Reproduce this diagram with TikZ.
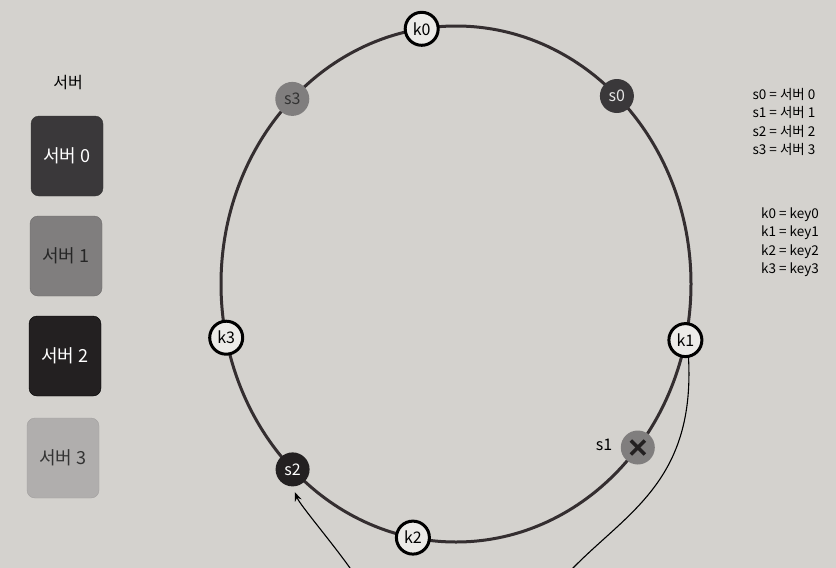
\documentclass[tikz,border=0pt]{standalone}
\usepackage{fontspec}
\setmainfont{Noto Sans CJK KR}
\usetikzlibrary{arrows.meta,calc}
\definecolor{paper}{RGB}{212,210,206}
\definecolor{kfill}{RGB}{236,235,232}
\definecolor{ringc}{RGB}{52,46,48}
\definecolor{sdark}{RGB}{58,56,58}
\definecolor{smid}{RGB}{128,126,126}
\definecolor{sblack}{RGB}{35,32,33}
\definecolor{slight}{RGB}{176,174,173}
\tikzset{
  ring/.style={draw=ringc, line width=3pt},
  knode/.style={circle, draw=black, line width=3pt, fill=kfill, minimum size=33pt, inner sep=0pt, font=\fontsize{16}{16}\selectfont},
  snode/.style={circle, minimum size=34pt, inner sep=0pt, font=\fontsize{16}{16}\selectfont},
  srvbox/.style={rounded corners=8pt, minimum width=72pt, minimum height=80pt, inner sep=0pt, font=\fontsize{18}{18}\selectfont},
  legend/.style={align=center, font=\fontsize{13.5}{18.5}\selectfont},
  arcline/.style={draw=black, line width=1.1pt, -{Stealth[length=9pt,width=7pt]}},
  xmark/.style={draw=sblack, line width=3.5pt}
}
\begin{document}
\begin{tikzpicture}[x=1pt,y=-1pt]
\useasboundingbox (0,0) rectangle (836,568);
\clip (0,0) rectangle (836,568);
\fill[paper] (0,0) rectangle (836,568);

% left server boxes
\node[font=\fontsize{16}{16}\selectfont] (title) at (68,83) {서버};
\node[srvbox, fill=sdark, draw=black!80, text=white] (b0) at (67,156) {서버 0};
\node[srvbox, fill=smid, draw=smid!85!black, text=black!85] (b1) at (66,256) {서버 1};
\node[srvbox, fill=sblack, draw=black, text=white] (b2) at (65,356) {서버 2};
\node[srvbox, fill=slight, draw=slight!92!black, text=black!80] (b3) at (63,458) {서버 3};

% ring
\draw[ring] (456,284) ellipse [x radius=235pt, y radius=258pt];

\node[knode] (k0) at (421.7,28.8) {k0};
\node[snode, fill=sdark, text=white!90!black] (s0) at (616.9,96.0) {s0};
\node[snode, fill=smid, text=black!80] (s3) at (292.3,98.9) {s3};
\node[knode] (k3) at (226.2,337.7) {k3};
\node[knode] (k1) at (685.4,340.1) {k1};
\node[snode, fill=smid] (s1) at (637.8,447.5) {};
\node[snode, fill=sblack, text=white] (s2) at (292.6,469.4) {s2};
\node[knode] (k2) at (412.9,537.6) {k2};

\draw[xmark] ($(s1)+(-7,-7)$) -- ($(s1)+(7,7)$);
\draw[xmark] ($(s1)+(-7,7)$) -- ($(s1)+(7,-7)$);
\node[font=\fontsize{16}{16}\selectfont] (s1lab) at (604,445) {s1};

% arc from k1 to s2
\draw[arcline, shorten >=6pt] (k1.-80) .. controls (695,480) and (628,512) .. (573,568)
  .. controls (520,628) and (396,633) .. (350,568)
  .. controls (330,540) and (300,505) .. (s2.south);

% legend
\node[legend] (leg1) at (784,122) {s0 = 서버 0\\ s1 = 서버 1\\ s2 = 서버 2\\ s3 = 서버 3};
\node[legend] (leg2) at (790,242) {k0 = key0\\ k1 = key1\\ k2 = key2\\ k3 = key3};
\end{tikzpicture}
\end{document}
